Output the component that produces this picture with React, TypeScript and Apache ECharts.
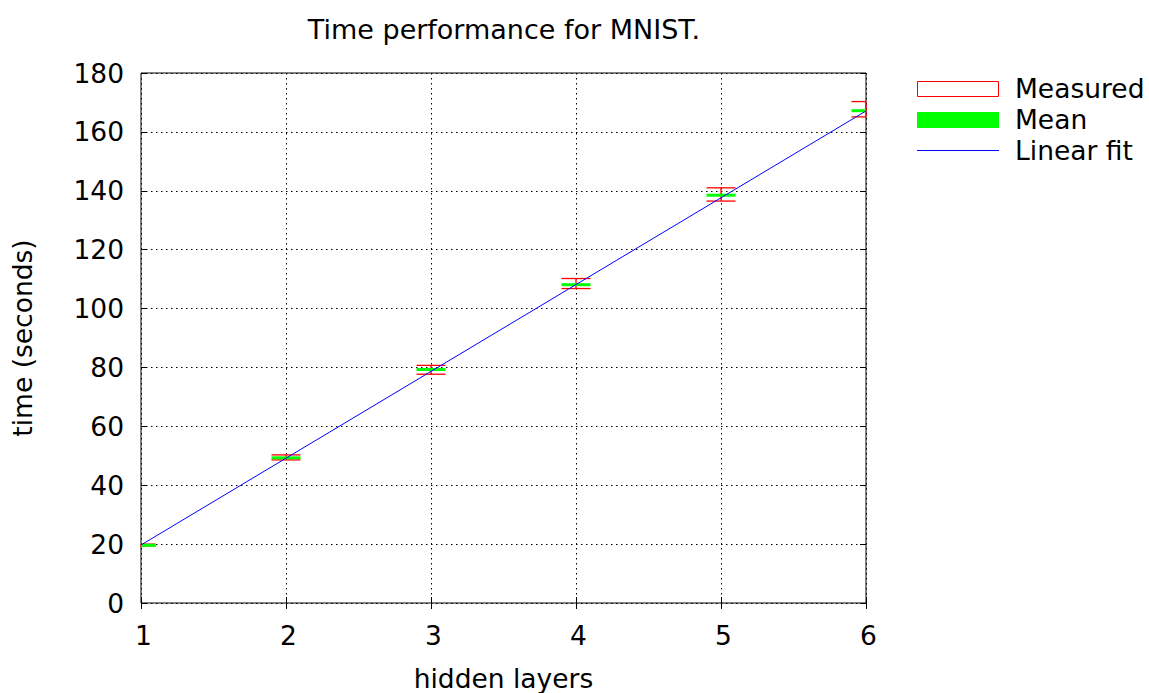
import React, { useEffect, useRef } from "react";
import * as echarts from "echarts";

const layers = [1, 2, 3, 4, 5, 6];
const measuredLow = [19.4, 48.6, 77.7, 106.8, 136.5, 165.1];
const measuredHigh = [20.0, 50.3, 80.7, 110.2, 141.0, 170.3];
const meanTime = [19.6, 49.3, 79.3, 108.1, 138.5, 167.2];
const fitLayers = [1, 6];
const fitTime = [19.7, 167.1];
const legendNames = ["Measured", "Mean", "Linear fit"];

const FONT = "DejaVu Sans";
const FS = 26.5;
const HALF_W = 0.1;

function clampLine(x1: number, x2: number, cs: any) {
  return [Math.max(x1, cs.x), Math.min(x2, cs.x + cs.width)];
}

export default function App() {
  const ref = useRef<HTMLDivElement>(null);
  useEffect(() => {
    const chart = echarts.init(ref.current!, null, { renderer: "svg" });
    const measuredData = layers.map((x, i) => [x, measuredLow[i], measuredHigh[i]]);
    const meanData = layers.map((x, i) => [x, meanTime[i]]);
    const fitData = fitLayers.map((x, i) => [x, fitTime[i]]);
    const axisCommon = {
      type: "value" as const,
      axisLine: { show: false },
      axisTick: { show: true, inside: true, length: 6, lineStyle: { color: "#000", width: 1 } },
    };
    const legendTextStyle = { fontFamily: FONT, fontSize: FS, fill: "#000", verticalAlign: "middle", align: "left" };
    const option: any = {
      animation: false,
      backgroundColor: "#fff",
      textStyle: { fontFamily: FONT },
      title: {
        text: "Time performance for MNIST.",
        left: 499,
        textAlign: "center",
        top: 11,
        textStyle: { fontFamily: FONT, fontSize: 27, fontWeight: "normal", color: "#000" },
      },
      grid: {
        left: 141,
        top: 73,
        width: 725,
        height: 530,
        show: true,
        borderColor: "#000",
        borderWidth: 1,
        backgroundColor: "transparent",
        outerBoundsMode: "none",
        containLabel: false,
      },
      graphic: [
        {
          type: "rect",
          shape: { x: 917.5, y: 81.5, width: 81, height: 15 },
          style: { fill: "#fff", stroke: "#ff0000", lineWidth: 1 },
        },
        {
          type: "rect",
          shape: { x: 917, y: 112, width: 82, height: 16 },
          style: { fill: "#00ff00" },
        },
        {
          type: "line",
          shape: { x1: 917, y1: 150.5, x2: 999, y2: 150.5 },
          style: { stroke: "#0000ff", lineWidth: 1 },
        },
        { type: "text", x: 1015, y: 88.5, style: { ...legendTextStyle, text: legendNames[0] } },
        { type: "text", x: 1015, y: 119.5, style: { ...legendTextStyle, text: legendNames[1] } },
        { type: "text", x: 1015, y: 150.5, style: { ...legendTextStyle, text: legendNames[2] } },
      ],
      xAxis: [
        {
          ...axisCommon,
          min: 1,
          max: 6,
          interval: 1,
          position: "bottom",
          name: "hidden layers",
          nameLocation: "middle",
          nameGap: 62,
          nameTextStyle: { fontFamily: FONT, fontSize: FS, color: "#000" },
          axisLabel: { fontFamily: FONT, fontSize: FS, color: "#000", margin: 19, padding: [0, 0, 0, 5] },
          splitLine: { show: true, lineStyle: { color: "#000", type: [1.5, 3.5], width: 1 } },
        },
        {
          ...axisCommon,
          min: 1,
          max: 6,
          interval: 1,
          position: "top",
          axisLabel: { show: false },
          splitLine: { show: false },
        },
      ],
      yAxis: [
        {
          ...axisCommon,
          min: 0,
          max: 180,
          interval: 20,
          position: "left",
          name: "time (seconds)",
          nameLocation: "middle",
          nameGap: 105,
          nameRotate: 90,
          nameTextStyle: { fontFamily: FONT, fontSize: FS, color: "#000" },
          axisLabel: { fontFamily: FONT, fontSize: FS, color: "#000", margin: 17 },
          splitLine: { show: true, lineStyle: { color: "#000", type: [1.5, 3.5], width: 1 } },
        },
        {
          ...axisCommon,
          min: 0,
          max: 180,
          interval: 20,
          position: "right",
          axisLabel: { show: false },
          splitLine: { show: false },
        },
      ],
      series: [
        {
          name: "Measured",
          type: "custom",
          xAxisIndex: 0,
          yAxisIndex: 0,
          itemStyle: { color: "#ff0000" },
          data: measuredData,
          renderItem: (params: any, api: any) => {
            const cs = params.coordSys;
            const x = api.value(0);
            const lo = api.value(1);
            const hi = api.value(2);
            const pLo = api.coord([x, lo]);
            const pHi = api.coord([x, hi]);
            const xl = api.coord([x - HALF_W, lo])[0];
            const xr = api.coord([x + HALF_W, lo])[0];
            const [cl, cr] = clampLine(xl, xr, cs);
            const style = { stroke: "#ff0000", lineWidth: 1.3 };
            return {
              type: "group",
              children: [
                { type: "line", shape: { x1: cl, y1: pLo[1], x2: cr, y2: pLo[1] }, style },
                { type: "line", shape: { x1: cl, y1: pHi[1], x2: cr, y2: pHi[1] }, style },
                { type: "line", shape: { x1: pLo[0], y1: pLo[1], x2: pHi[0], y2: pHi[1] }, style },
              ],
            };
          },
        },
        {
          name: "Mean",
          type: "custom",
          xAxisIndex: 0,
          yAxisIndex: 0,
          itemStyle: { color: "#00ff00" },
          data: meanData,
          renderItem: (params: any, api: any) => {
            const cs = params.coordSys;
            const x = api.value(0);
            const m = api.value(1);
            const p = api.coord([x, m]);
            const xl = api.coord([x - HALF_W, m])[0];
            const xr = api.coord([x + HALF_W, m])[0];
            const [cl, cr] = clampLine(xl, xr, cs);
            return {
              type: "line",
              shape: { x1: cl, y1: p[1], x2: cr, y2: p[1] },
              style: { stroke: "#00ff00", lineWidth: 3 },
            };
          },
        },
        {
          name: "Linear fit",
          type: "line",
          xAxisIndex: 0,
          yAxisIndex: 0,
          data: fitData,
          symbol: "none",
          showSymbol: false,
          itemStyle: { color: "#0000ff" },
          lineStyle: { color: "#0000ff", width: 1 },
          z: 5,
        },
      ],
    };
    chart.setOption(option);
    return () => chart.dispose();
  }, []);
  return (
    <div
      ref={ref}
      style={{ position: "fixed", left: 0, top: 0, width: 1149, height: 693, background: "#fff" }}
    />
  );
}
